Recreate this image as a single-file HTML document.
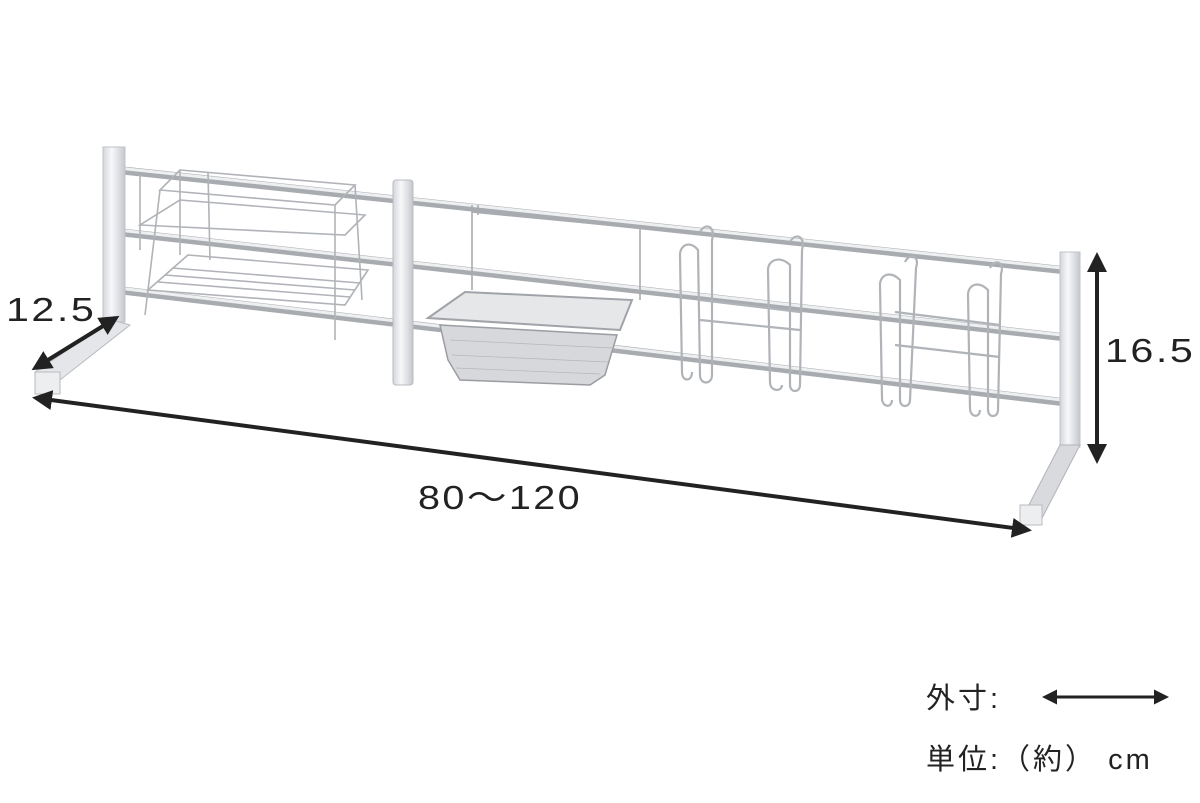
<!DOCTYPE html>
<html><head><meta charset="utf-8"><style>
html,body{margin:0;padding:0;background:#fff;width:1200px;height:803px;overflow:hidden}
svg{display:block}
text{font-family:"Liberation Sans","Noto Sans CJK JP",sans-serif;fill:#222}
</style></head><body>
<svg width="1200" height="803" viewBox="0 0 1200 803" xmlns="http://www.w3.org/2000/svg">
<defs>
<marker id="ah" viewBox="0 0 10 10" refX="8" refY="5" markerWidth="5" markerHeight="5" orient="auto-start-reverse"><path d="M0,0L10,5L0,10z" fill="#222"/></marker>
<linearGradient id="post" x1="0" x2="1"><stop offset="0" stop-color="#d4d6db"/><stop offset="0.4" stop-color="#f7f8fa"/><stop offset="1" stop-color="#c4c7cd"/></linearGradient>
</defs>
<g stroke-linecap="round">
<line x1="118" y1="170" x2="1062" y2="270" stroke="#a8abb0" stroke-width="8"/>
<line x1="118" y1="168" x2="1062" y2="268" stroke="#eeeff1" stroke-width="3"/>
<line x1="118" y1="232" x2="1062" y2="337" stroke="#a8abb0" stroke-width="8"/>
<line x1="118" y1="230" x2="1062" y2="335" stroke="#eeeff1" stroke-width="3"/>
<line x1="118" y1="290" x2="1062" y2="402" stroke="#a8abb0" stroke-width="8"/>
<line x1="118" y1="288" x2="1062" y2="400" stroke="#eeeff1" stroke-width="3"/>
</g>
<rect x="103" y="147" width="22" height="175" fill="url(#post)" stroke="#c0c3c8"/>
<polygon points="35,372 112,320 130,325 60,380" fill="#e4e6e9" stroke="#b8bbc0"/>
<rect x="35" y="372" width="25" height="22" fill="#eceef0" stroke="#b8bbc0"/>
<rect x="393" y="180" width="20" height="205" rx="3" fill="url(#post)" stroke="#b8bbc0"/>
<rect x="1060" y="252" width="20" height="195" fill="url(#post)" stroke="#c0c3c8"/>
<polygon points="1060,445 1080,445 1040,522 1020,522" fill="#d8dadd" stroke="#b0b3b8"/>
<rect x="1020" y="505" width="22" height="20" fill="#eceef0" stroke="#b8bbc0"/>
<g fill="none" stroke="#b0b3b8" stroke-width="1.6">
<path d="M180,170 L355,185 L335,205 L160,190z"/>
<path d="M180,200 L365,215 L345,235 L140,225z"/>
<path d="M188,255 L368,270 L345,305 L148,290z"/>
<path d="M180,170 L180,255 M208,172 L210,260 M355,185 L362,300 M335,205 L335,340 M160,190 L145,315 M140,175 L140,250"/>
<path d="M165,275 L355,290 M158,282 L350,297 M172,268 L360,283"/>
</g>
<g fill="none" stroke="#a8abb0" stroke-width="1.6">
<path d="M472,205 L472,290 M472,212 L640,228 L640,300 M478,215 L478,205"/>
</g>
<path d="M428,318 L465,292 L632,300 L620,330 Z" fill="#e6e7e9" stroke="#a0a3a8" stroke-width="2"/>
<path d="M440,325 L617,335 L605,375 L590,385 L460,380 L448,360 Z" fill="#d6d8db" stroke="#9a9da2" stroke-width="1.5"/>
<g stroke="#b4b6ba" stroke-width="0.7">
<path d="M450,340L612,348 M452,355L608,362 M456,368L600,374"/>
</g>
<g fill="none" stroke="#b0b3b8" stroke-width="2.2">
<path d="M700,232 C705,222 716,226 712,240 L712,375 C712,385 700,385 700,375 L698,250 C690,240 680,245 680,255 L682,372 C682,382 692,382 692,372"/>
<path d="M790,242 C795,232 806,236 802,250 L800,385 C800,393 790,393 790,385 L790,265 C780,255 768,260 768,270 L770,382 C770,392 782,392 782,385"/>
<path d="M905,262 C910,252 920,256 916,268 L910,400 C910,408 900,408 900,400 L900,280 C890,270 880,275 880,285 L882,398 C882,408 892,408 892,400"/>
<path d="M990,268 C995,258 1005,262 1001,274 L998,410 C998,418 988,418 988,410 L988,290 C978,280 968,285 968,295 L970,408 C970,418 980,418 980,410"/>
<path d="M700,300 L800,312 M700,320 L800,330 M895,312 L1000,325 M895,345 L1000,357"/>
</g>
<g stroke="#222" stroke-width="4" marker-start="url(#ah)" marker-end="url(#ah)">
<line x1="35" y1="368" x2="116" y2="318"/>
<line x1="36" y1="398" x2="1028" y2="530"/>
<line x1="1097" y1="256" x2="1097" y2="460"/>
<line x1="1045" y1="697" x2="1166" y2="697" stroke-width="3"/>
</g>
<g transform="translate(6,321) scale(1.25,1)"><text font-size="33" letter-spacing="2">12.5</text></g>
<g transform="translate(1105,362) scale(1.25,1)"><text font-size="33" letter-spacing="2">16.5</text></g>
<g transform="translate(418,509) scale(1.2,1)"><text font-size="33" letter-spacing="2">80～120</text></g>
<text x="926" y="708" font-size="29" letter-spacing="3">外寸:</text>
<text x="926" y="769" font-size="29" letter-spacing="3">単位:（約） cm</text>
</svg>
</body></html>
